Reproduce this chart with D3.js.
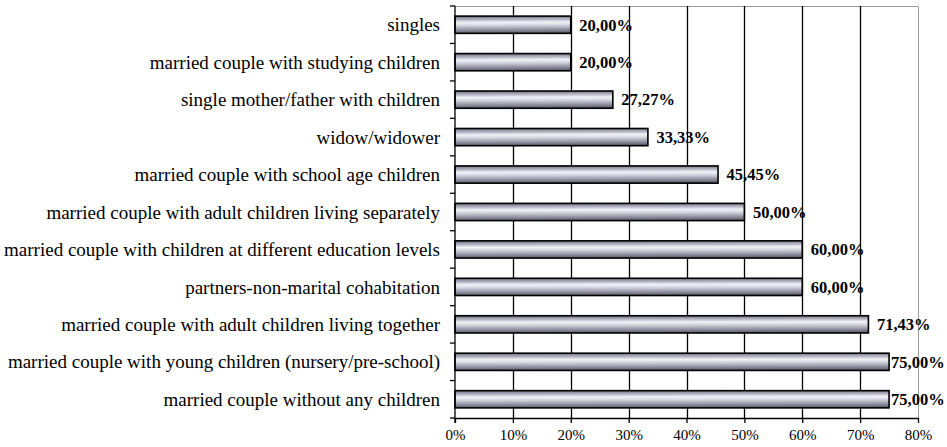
<!DOCTYPE html>
<html>
<head>
<meta charset="utf-8">
<script src="https://cdn.jsdelivr.net/npm/d3@7"></script>
<style>
  html, body { margin: 0; padding: 0; background: #fff; }
  svg { display: block; }
</style>
</head>
<body>
<svg id="chart" width="947" height="447"></svg>
<script>
// Household types, top to bottom
const categories = [
  "singles",
  "married couple with studying children",
  "single mother/father with children",
  "widow/widower",
  "married couple with school age children",
  "married couple with adult children living separately",
  "married couple with children at different education levels",
  "partners-non-marital cohabitation",
  "married couple with adult children living together",
  "married couple with young children (nursery/pre-school)",
  "married couple without any children"
];
// Share of respondents, in percent
const values = [20.00, 20.00, 27.27, 33.33, 45.45, 50.00, 60.00, 60.00, 71.43, 75.00, 75.00];
const valueLabels = ["20,00%", "20,00%", "27,27%", "33,33%", "45,45%", "50,00%", "60,00%", "60,00%", "71,43%", "75,00%", "75,00%"];
const xTicks = [0, 10, 20, 30, 40, 50, 60, 70, 80];

const svg = d3.select("#chart");
const margin = { left: 455, right: 29, top: 6, bottom: 29 };
const W = 947, H = 447;
const x0 = margin.left, x1 = W - margin.right;
const y0 = margin.top, y1 = H - margin.bottom;
const serif = "'Liberation Serif', 'Times New Roman', serif";

const x = d3.scaleLinear().domain([0, 80]).range([x0, x1]);
const y = d3.scaleBand().domain(categories).range([y0, y1]).paddingInner(0.54).paddingOuter(0.27);
const step = y.step();

// Metallic bar fill
const defs = svg.append("defs");
const grad = defs.append("linearGradient")
  .attr("id", "metal")
  .attr("x1", 0).attr("y1", 0).attr("x2", 0.04).attr("y2", 1);
[
  [0.00, "#6c6c7c"],
  [0.18, "#a8a8b8"],
  [0.38, "#f2f2f8"],
  [0.55, "#d4d4de"],
  [0.78, "#9898a8"],
  [1.00, "#5c5c6c"]
].forEach(([o, c]) => grad.append("stop").attr("offset", o).attr("stop-color", c));

// Frame (top and right sides)
svg.append("path")
  .attr("d", `M${x0},${y0 + 0.5}H${x1 + 0.5}V${y1}`)
  .attr("fill", "none").attr("stroke", "#9a9a9a").attr("stroke-width", 1);

// Vertical gridlines
svg.append("g").selectAll("line")
  .data(xTicks.filter(t => t > 0 && t < 80))
  .join("line")
  .attr("x1", d => Math.round(x(d)) + 0.5).attr("x2", d => Math.round(x(d)) + 0.5)
  .attr("y1", y0).attr("y2", y1)
  .attr("stroke", "#000").attr("stroke-width", 1.3);

// Bars
svg.append("g").selectAll("rect")
  .data(categories)
  .join("rect")
  .attr("x", x(0))
  .attr("y", d => y(d))
  .attr("width", (d, i) => x(values[i]) - x(0))
  .attr("height", y.bandwidth())
  .attr("fill", "url(#metal)")
  .attr("stroke", "#000").attr("stroke-width", 1.6);

// Value labels
svg.append("g").selectAll("text")
  .data(categories)
  .join("text")
  .attr("x", (d, i) => Math.min(x(values[i]) + 8.5, 891))
  .attr("y", d => y(d) + y.bandwidth() / 2)
  .attr("dy", "0.35em")
  .attr("font-family", serif)
  .attr("font-weight", "bold")
  .attr("font-size", 16.5)
  .attr("fill", "#000")
  .text((d, i) => valueLabels[i]);

// X axis
const xAxis = d3.axisBottom(x).tickValues(xTicks).tickFormat(d => d + "%").tickSize(5).tickSizeOuter(0);
const gx = svg.append("g").attr("transform", `translate(0,${y1})`).call(xAxis);
gx.select(".domain").attr("stroke", "#000").attr("stroke-width", 1.3);
gx.selectAll(".tick line").attr("stroke", "#000").attr("stroke-width", 1.3);
gx.selectAll(".tick text")
  .attr("font-family", serif)
  .attr("font-size", 15).attr("fill", "#000").attr("dy", "0.95em");

// Y axis line with ticks at category boundaries
const gy = svg.append("g");
gy.append("line").attr("x1", x0).attr("x2", x0).attr("y1", y0).attr("y2", y1 + 5)
  .attr("stroke", "#000").attr("stroke-width", 1.3);
gy.selectAll("line.tk")
  .data(d3.range(categories.length + 1))
  .join("line").attr("class", "tk")
  .attr("x1", x0 - 5).attr("x2", x0)
  .attr("y1", i => y0 + i * step).attr("y2", i => y0 + i * step)
  .attr("stroke", "#000").attr("stroke-width", 1.3);

// Category labels
gy.selectAll("text")
  .data(categories)
  .join("text")
  .attr("x", x0 - 15)
  .attr("y", d => y(d) + y.bandwidth() / 2)
  .attr("dy", "0.35em")
  .attr("text-anchor", "end")
  .attr("font-family", serif)
  .attr("font-size", 19)
  .attr("fill", "#000")
  .text(d => d);
</script>
</body>
</html>
